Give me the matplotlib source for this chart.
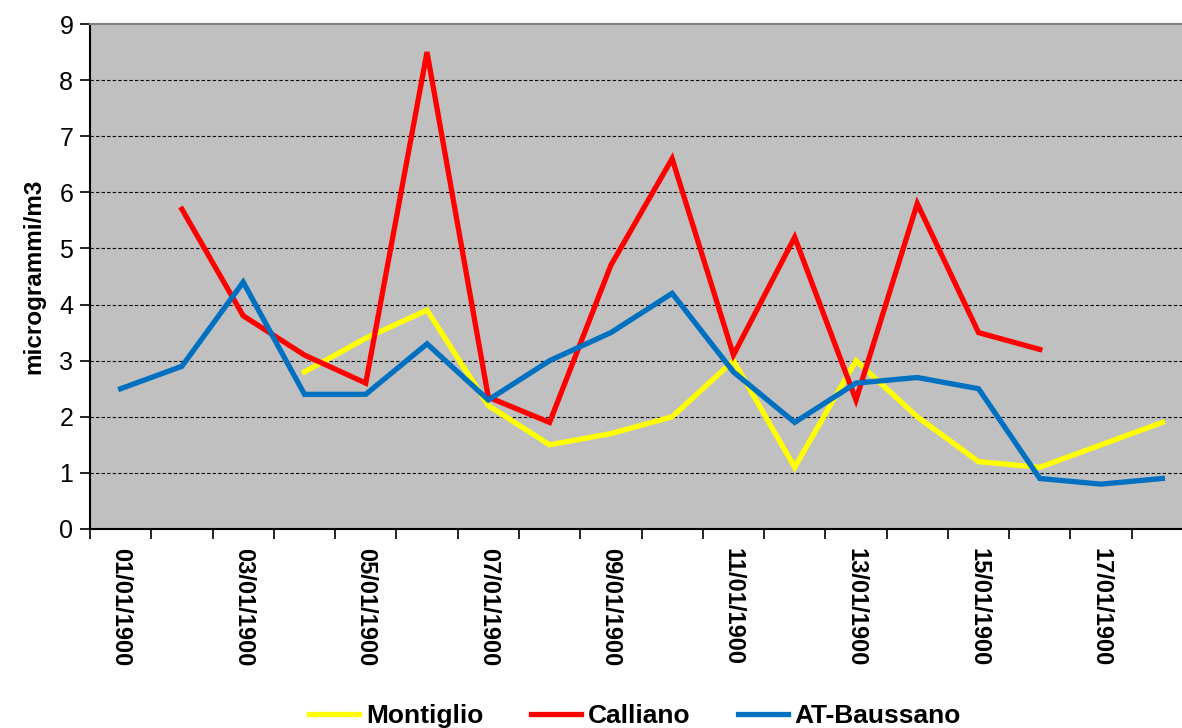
import numpy as np
import matplotlib
matplotlib.use('Agg')
from matplotlib import pyplot as plt

plt.rcParams['font.family'] = ['Liberation Sans', 'DejaVu Sans']

dates = ['%02d/01/1900' % d for d in range(1, 19)]
nan = np.nan
montiglio = [nan, nan, nan, 2.8, 3.4, 3.9, 2.2, 1.5, 1.7, 2.0, 3.0, 1.1, 3.0, 2.0, 1.2, 1.1, 1.5, 1.9]
calliano = [nan, 5.7, 3.8, 3.1, 2.6, 8.5, 2.35, 1.9, 4.7, 6.6, 3.1, 5.2, 2.3, 5.8, 3.5, 3.2, nan, nan]
baussano = [2.5, 2.9, 4.4, 2.4, 2.4, 3.3, 2.3, 3.0, 3.5, 4.2, 2.8, 1.9, 2.6, 2.7, 2.5, 0.9, 0.8, 0.9]

W, H = 1182, 728
fig = plt.figure(figsize=(W / 100, H / 100), dpi=100)
ax = fig.add_axes([90 / W, 1 - 529 / H, (1193 - 90) / W, (529 - 24) / H])
ax.set_facecolor('#c0c0c0')

x = np.arange(len(dates))
ax.plot(x, montiglio, color='#ffff00', lw=3.8, label='Montiglio', solid_joinstyle='miter')
ax.plot(x, calliano, color='#ff0000', lw=3.8, label='Calliano', solid_joinstyle='miter')
ax.plot(x, baussano, color='#0070c0', lw=3.8, label='AT-Baussano', solid_joinstyle='miter')

ax.set_xlim(-0.5, len(dates) - 0.5)
ax.set_ylim(0, 9)
ax.set_yticks(range(10))
ax.tick_params(axis='y', labelsize=18, length=7, width=1.2, direction='out', pad=5)
for yv in range(1, 9):
    ax.axhline(yv, color='black', lw=0.8, ls=(0, (3, 2)), zorder=1)

ax.set_xticks(x[::2])
ax.set_xticklabels(dates[::2], rotation=270, fontsize=17, fontweight='bold')
ax.set_xticks(np.arange(-0.5, len(dates), 1), minor=True)
ax.tick_params(axis='x', which='major', length=0, pad=14)
ax.tick_params(axis='x', which='minor', length=7, width=1.2)

ax.set_ylabel('microgrammi/m3', fontsize=17.5, fontweight='bold', labelpad=10)

for s in ['left', 'bottom']:
    ax.spines[s].set_linewidth(1.5)
ax.spines['top'].set_color('#808080')
ax.spines['top'].set_linewidth(1.5)
ax.spines['right'].set_visible(False)

leg = fig.legend(loc='center', bbox_to_anchor=(635 / W, 1 - 716 / H), ncol=3, frameon=False,
                 prop={'size': 19, 'weight': 'bold'}, handlelength=1.9, columnspacing=1.8,
                 handletextpad=0.25)

fig.savefig('out.png', dpi=100)
